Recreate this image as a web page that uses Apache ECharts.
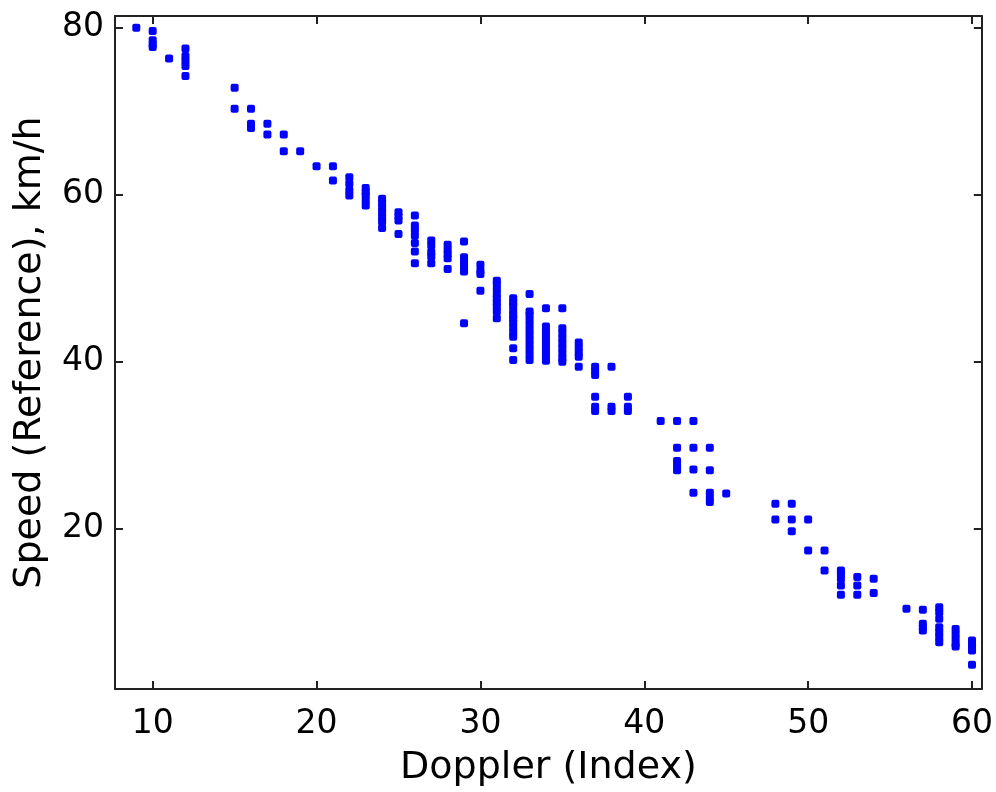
<!DOCTYPE html>
<html>
<head>
<meta charset="utf-8">
<script src="https://cdn.jsdelivr.net/npm/echarts@6/dist/echarts.min.js"></script>
<style>
html,body{margin:0;padding:0;background:#fff;}
#chart{width:996px;height:792px;}
</style>
</head>
<body>
<div id="chart"></div>
<script>
// Doppler index (x) and the reference speeds (km/h) observed at each index
const dopplerIdx = [9, 10, 11, 12, 15, 16, 17, 18, 19, 20, 21, 22, 23, 24, 25, 26, 27, 28, 29, 30,
  31, 32, 33, 34, 35, 36, 37, 38, 39, 41, 42, 43, 44, 45, 48, 49, 50, 51, 52, 53, 54, 56, 57, 58, 59, 60];
const speedGroups = [
  [80.0],
  [79.6, 78.5, 78.0, 77.7],
  [76.3],
  [77.5, 76.6, 76.0, 75.4, 74.2],
  [72.8, 70.3],
  [70.3, 68.5, 68.0],
  [68.5, 67.2],
  [67.2, 65.2],
  [65.2],
  [63.4],
  [63.4, 61.7],
  [62.1, 61.3, 60.5, 59.9],
  [60.8, 60.3, 59.9, 59.3, 58.7],
  [59.5, 59.1, 58.5, 57.9, 57.3, 56.8, 56.0],
  [57.9, 57.4, 56.9, 55.3],
  [57.5, 56.3, 55.8, 55.1, 54.2, 53.2, 51.8],
  [54.5, 53.9, 53.1, 52.6, 51.8],
  [54.0, 53.4, 52.9, 52.4, 51.1],
  [54.4, 52.5, 51.9, 51.3, 50.8, 44.6],
  [51.6, 50.9, 50.5, 48.5],
  [49.7, 49.3, 48.7, 48.1, 47.6, 47.1, 46.6, 46.0, 45.2],
  [47.6, 47.1, 46.7, 46.1, 45.6, 45.2, 44.7, 44.1, 43.5, 43.0, 41.6, 40.2],
  [48.1, 46.0, 45.6, 45.0, 44.4, 43.8, 43.2, 42.6, 42.0, 41.4, 40.8, 40.2],
  [46.4, 44.2, 43.6, 43.0, 42.4, 41.8, 41.2, 40.6, 40.1],
  [46.4, 44.0, 43.4, 42.8, 42.2, 41.6, 41.0, 40.4, 40.0],
  [42.3, 41.7, 41.1, 40.6, 39.4],
  [39.4, 38.9, 38.4, 35.8, 34.6, 34.1],
  [39.4, 34.6, 34.1],
  [35.8, 34.6, 34.1],
  [32.9],
  [32.9, 29.7, 28.1, 27.5, 27.0],
  [32.9, 29.7, 27.1, 24.3],
  [29.7, 27.0, 24.3, 23.7, 23.2],
  [24.2],
  [23.0, 21.1],
  [23.0, 21.1, 19.7],
  [21.1, 17.4],
  [17.4, 15.0],
  [15.0, 14.6, 14.0, 13.2, 12.1],
  [14.2, 13.2, 12.1],
  [14.0, 12.3],
  [10.4],
  [10.3, 8.6, 8.2, 7.8],
  [10.6, 10.0, 9.2, 8.2, 7.6, 7.0, 6.4],
  [8.0, 7.4, 6.8, 6.2, 5.9],
  [6.6, 6.2, 5.8, 5.4, 3.7]
];
const xTicks = [10, 20, 30, 40, 50, 60];
const yTicks = [20, 40, 60, 80];
const xTitle = 'Doppler (Index)';
const yTitle = 'Speed (Reference), km/h';

const points = [];
dopplerIdx.forEach((x, i) => speedGroups[i].forEach(v => points.push([x, v])));

const FONT = 'DejaVu Sans';
const lineStyle = {color: '#222', width: 2};
const chart = echarts.init(document.getElementById('chart'), null, {renderer: 'canvas'});

function xAx(pos, shown) {
  return {
    type: 'value', position: pos, min: 7.7, max: 60.6,
    name: shown ? xTitle : '', nameLocation: 'middle', nameGap: 60,
    nameTextStyle: {fontFamily: FONT, fontSize: 38, color: '#000'},
    axisLine: {show: true, onZero: false, lineStyle: lineStyle},
    axisTick: {show: true, inside: true, length: 8, customValues: xTicks, lineStyle: lineStyle},
    axisLabel: {show: shown, customValues: xTicks, margin: 19, fontFamily: FONT, fontSize: 33, color: '#000'},
    splitLine: {show: false}
  };
}
function yAx(pos, shown) {
  return {
    type: 'value', position: pos, min: 0.8, max: 81.4,
    name: shown ? yTitle : '', nameLocation: 'middle', nameGap: 66, nameRotate: 90,
    nameTextStyle: {fontFamily: FONT, fontSize: 38, color: '#000'},
    axisLine: {show: true, onZero: false, lineStyle: lineStyle},
    axisTick: {show: true, inside: true, length: 8, customValues: yTicks, lineStyle: lineStyle},
    axisLabel: {show: shown, customValues: yTicks, margin: 11, fontFamily: FONT, fontSize: 33, color: '#000'},
    splitLine: {show: false}
  };
}

chart.setOption({
  animation: false,
  backgroundColor: '#fff',
  grid: {left: 115, right: 14, top: 16, bottom: 100, containLabel: false},
  xAxis: [xAx('bottom', true), xAx('top', false)],
  yAxis: [yAx('left', true), yAx('right', false)],
  series: [{
    type: 'scatter',
    xAxisIndex: 0, yAxisIndex: 0,
    data: points,
    symbol: 'roundRect',
    symbolSize: 8,
    itemStyle: {color: '#0000ff', opacity: 1}
  }]
});
</script>
</body>
</html>
